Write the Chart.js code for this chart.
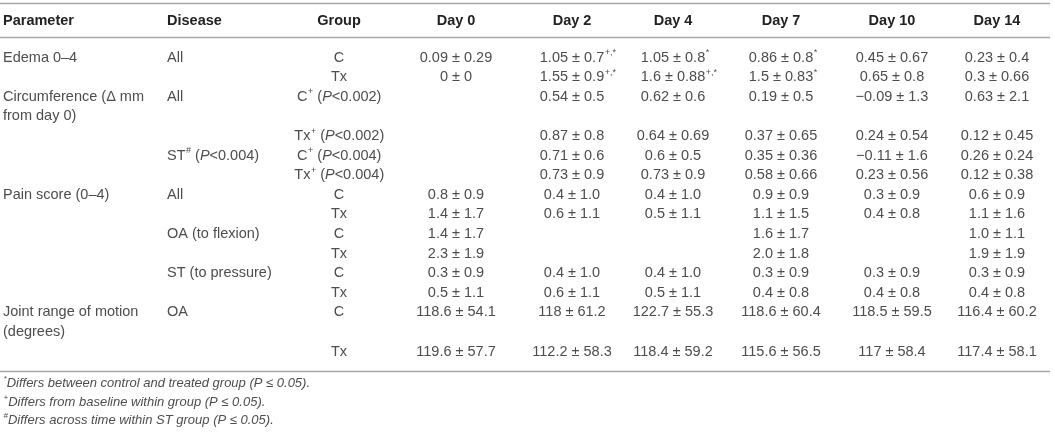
<!DOCTYPE html>
<html>
<head>
<meta charset="utf-8">
<script src="https://cdn.jsdelivr.net/npm/chart.js@4/dist/chart.umd.min.js"></script>
<style>
  html, body { margin: 0; padding: 0; background: #ffffff; }
  #wrap { width: 1055px; height: 432px; }
</style>
</head>
<body>
<div id="wrap"><canvas id="c" width="1055" height="432"></canvas></div>
<script>
// ---------------- DATA (one entry per text line of the table body) ----------------
const headers = ["Parameter", "Disease", "Group", "Day 0", "Day 2", "Day 4", "Day 7", "Day 10", "Day 14"];

const parameterLines = ["Edema 0–4", "", "Circumference (Δ mm", "from day 0)", "", "", "",
  "Pain score (0–4)", "", "", "", "", "", "Joint range of motion", "(degrees)", ""];

const diseaseLines = ["All", "", "All", "", "", "ST^{#} (_{P}<0.004)", "",
  "All", "", "OA (to flexion)", "", "ST (to pressure)", "", "OA", "", ""];

const groupLines = ["C", "Tx", "C^{+} (_{P}<0.002)", "", "Tx^{+} (_{P}<0.002)", "C^{+} (_{P}<0.004)", "Tx^{+} (_{P}<0.004)",
  "C", "Tx", "C", "Tx", "C", "Tx", "C", "", "Tx"];

const day0 = ["0.09 ± 0.29", "0 ± 0", "", "", "", "", "",
  "0.8 ± 0.9", "1.4 ± 1.7", "1.4 ± 1.7", "2.3 ± 1.9", "0.3 ± 0.9", "0.5 ± 1.1", "118.6 ± 54.1", "", "119.6 ± 57.7"];
const day2 = ["1.05 ± 0.7^{+,*}", "1.55 ± 0.9^{+,*}", "0.54 ± 0.5", "", "0.87 ± 0.8", "0.71 ± 0.6", "0.73 ± 0.9",
  "0.4 ± 1.0", "0.6 ± 1.1", "", "", "0.4 ± 1.0", "0.6 ± 1.1", "118 ± 61.2", "", "112.2 ± 58.3"];
const day4 = ["1.05 ± 0.8^{*}", "1.6 ± 0.88^{+,*}", "0.62 ± 0.6", "", "0.64 ± 0.69", "0.6 ± 0.5", "0.73 ± 0.9",
  "0.4 ± 1.0", "0.5 ± 1.1", "", "", "0.4 ± 1.0", "0.5 ± 1.1", "122.7 ± 55.3", "", "118.4 ± 59.2"];
const day7 = ["0.86 ± 0.8^{*}", "1.5 ± 0.83^{*}", "0.19 ± 0.5", "", "0.37 ± 0.65", "0.35 ± 0.36", "0.58 ± 0.66",
  "0.9 ± 0.9", "1.1 ± 1.5", "1.6 ± 1.7", "2.0 ± 1.8", "0.3 ± 0.9", "0.4 ± 0.8", "118.6 ± 60.4", "", "115.6 ± 56.5"];
const day10 = ["0.45 ± 0.67", "0.65 ± 0.8", "−0.09 ± 1.3", "", "0.24 ± 0.54", "−0.11 ± 1.6", "0.23 ± 0.56",
  "0.3 ± 0.9", "0.4 ± 0.8", "", "", "0.3 ± 0.9", "0.4 ± 0.8", "118.5 ± 59.5", "", "117 ± 58.4"];
const day14 = ["0.23 ± 0.4", "0.3 ± 0.66", "0.63 ± 2.1", "", "0.12 ± 0.45", "0.26 ± 0.24", "0.12 ± 0.38",
  "0.6 ± 0.9", "1.1 ± 1.6", "1.0 ± 1.1", "1.9 ± 1.9", "0.3 ± 0.9", "0.4 ± 0.8", "116.4 ± 60.2", "", "117.4 ± 58.1"];

const footnotes = [
  "^{*}Differs between control and treated group (P ≤ 0.05).",
  "^{+}Differs from baseline within group (P ≤ 0.05).",
  "^{#}Differs across time within ST group (P ≤ 0.05)."
];

// ---------------- LAYOUT (positions / styles, not data) ----------------
const dayColumns = [day0, day2, day4, day7, day10, day14];
const colX = [3, 167, 339, 456, 572, 673, 781, 892, 997];   // x-scale units
const colAlign = ["left", "left", "center", "center", "center", "center", "center", "center", "center"];
const LINE_STEP = 19.6, FIRST_LINE_PX = 57.5, H = 432, W = 1055;
const Y_MIN = -FIRST_LINE_PX / LINE_STEP, Y_MAX = Y_MIN + H / LINE_STEP;
const HEADER_LINE = -1.862, TOP_RULE = -2.78, HEAD_RULE = -1.046, BOTTOM_RULE = 15.97;
const FOOT_LINES = [16.61, 17.58, 18.52];
const FAMILY = '"Liberation Sans", Arial, sans-serif';
const BODY_SIZE = 14.5, FOOT_SIZE = 13;

function parseRich(s) {
  const out = []; const re = /\^\{([^}]*)\}|_\{([^}]*)\}/g; let last = 0, m;
  while ((m = re.exec(s))) {
    if (m.index > last) out.push({ t: s.slice(last, m.index), k: 'n' });
    if (m[1] !== undefined) out.push({ t: m[1], k: 'sup' }); else out.push({ t: m[2], k: 'i' });
    last = re.lastIndex;
  }
  if (last < s.length) out.push({ t: s.slice(last), k: 'n' });
  return out;
}
function segFont(seg, size, base) {
  const italic = (base.italic || seg.k === 'i') ? 'italic ' : '';
  const weight = base.bold ? 'bold ' : '';
  const sz = seg.k === 'sup' ? size * 0.62 : size;
  return italic + weight + sz + 'px ' + FAMILY;
}
function drawRich(ctx, str, x, y, align, size, base, color) {
  if (!str) return;
  const segs = parseRich(str);
  let lastMain = segs.length - 1;
  while (lastMain >= 0 && segs[lastMain].k === 'sup') lastMain--;
  let wMain = 0;
  segs.forEach((s, i) => { ctx.font = segFont(s, size, base); s.w = ctx.measureText(s.t).width; if (i <= lastMain) wMain += s.w; });
  let cx = align === 'center' ? x - wMain / 2 : x;
  ctx.fillStyle = color; ctx.textBaseline = 'middle'; ctx.textAlign = 'left';
  segs.forEach(s => {
    ctx.font = segFont(s, size, base);
    const dy = s.k === 'sup' ? -size * 0.33 : 0;
    ctx.fillText(s.t, cx + (s.k === 'sup' ? 0.5 : 0), y + dy);
    cx += s.w + (s.k === 'sup' ? 0.5 : 0);
  });
}

const tablePlugin = {
  id: 'tableText',
  afterDraw(chart) {
    const ctx = chart.ctx, xs = chart.scales.x, ys = chart.scales.y;
    ctx.save();
    // rules
    ctx.strokeStyle = '#a6a6a6'; ctx.lineWidth = 1.3;
    [TOP_RULE, HEAD_RULE, BOTTOM_RULE].forEach(v => {
      const py = Math.round(ys.getPixelForValue(v)) + 0.5;
      ctx.beginPath(); ctx.moveTo(xs.getPixelForValue(0), py); ctx.lineTo(xs.getPixelForValue(1050), py); ctx.stroke();
    });
    // header
    headers.forEach((h, c) => drawRich(ctx, h, xs.getPixelForValue(colX[c]), ys.getPixelForValue(HEADER_LINE),
      colAlign[c], BODY_SIZE, { bold: true }, '#222222'));
    // body
    const textCols = [parameterLines, diseaseLines, groupLines].concat(dayColumns);
    textCols.forEach((col, c) => col.forEach((txt, line) => {
      drawRich(ctx, txt, xs.getPixelForValue(colX[c]), ys.getPixelForValue(line), colAlign[c], BODY_SIZE, {}, '#4d4d4d');
    }));
    // footnotes
    footnotes.forEach((f, i) => drawRich(ctx, f, xs.getPixelForValue(colX[0]), ys.getPixelForValue(FOOT_LINES[i]),
      'left', FOOT_SIZE, { italic: true }, '#4d4d4d'));
    ctx.restore();
  }
};

new Chart(document.getElementById('c'), {
  type: 'scatter',
  data: { datasets: [] },
  options: {
    responsive: false, animation: false,
    layout: { padding: 0 },
    plugins: { legend: { display: false }, tooltip: { enabled: false } },
    scales: {
      x: { type: 'linear', min: 0, max: W, display: false },
      y: { type: 'linear', min: Y_MIN, max: Y_MAX, reverse: true, display: false }
    }
  },
  plugins: [tablePlugin]
});
</script>
</body>
</html>
